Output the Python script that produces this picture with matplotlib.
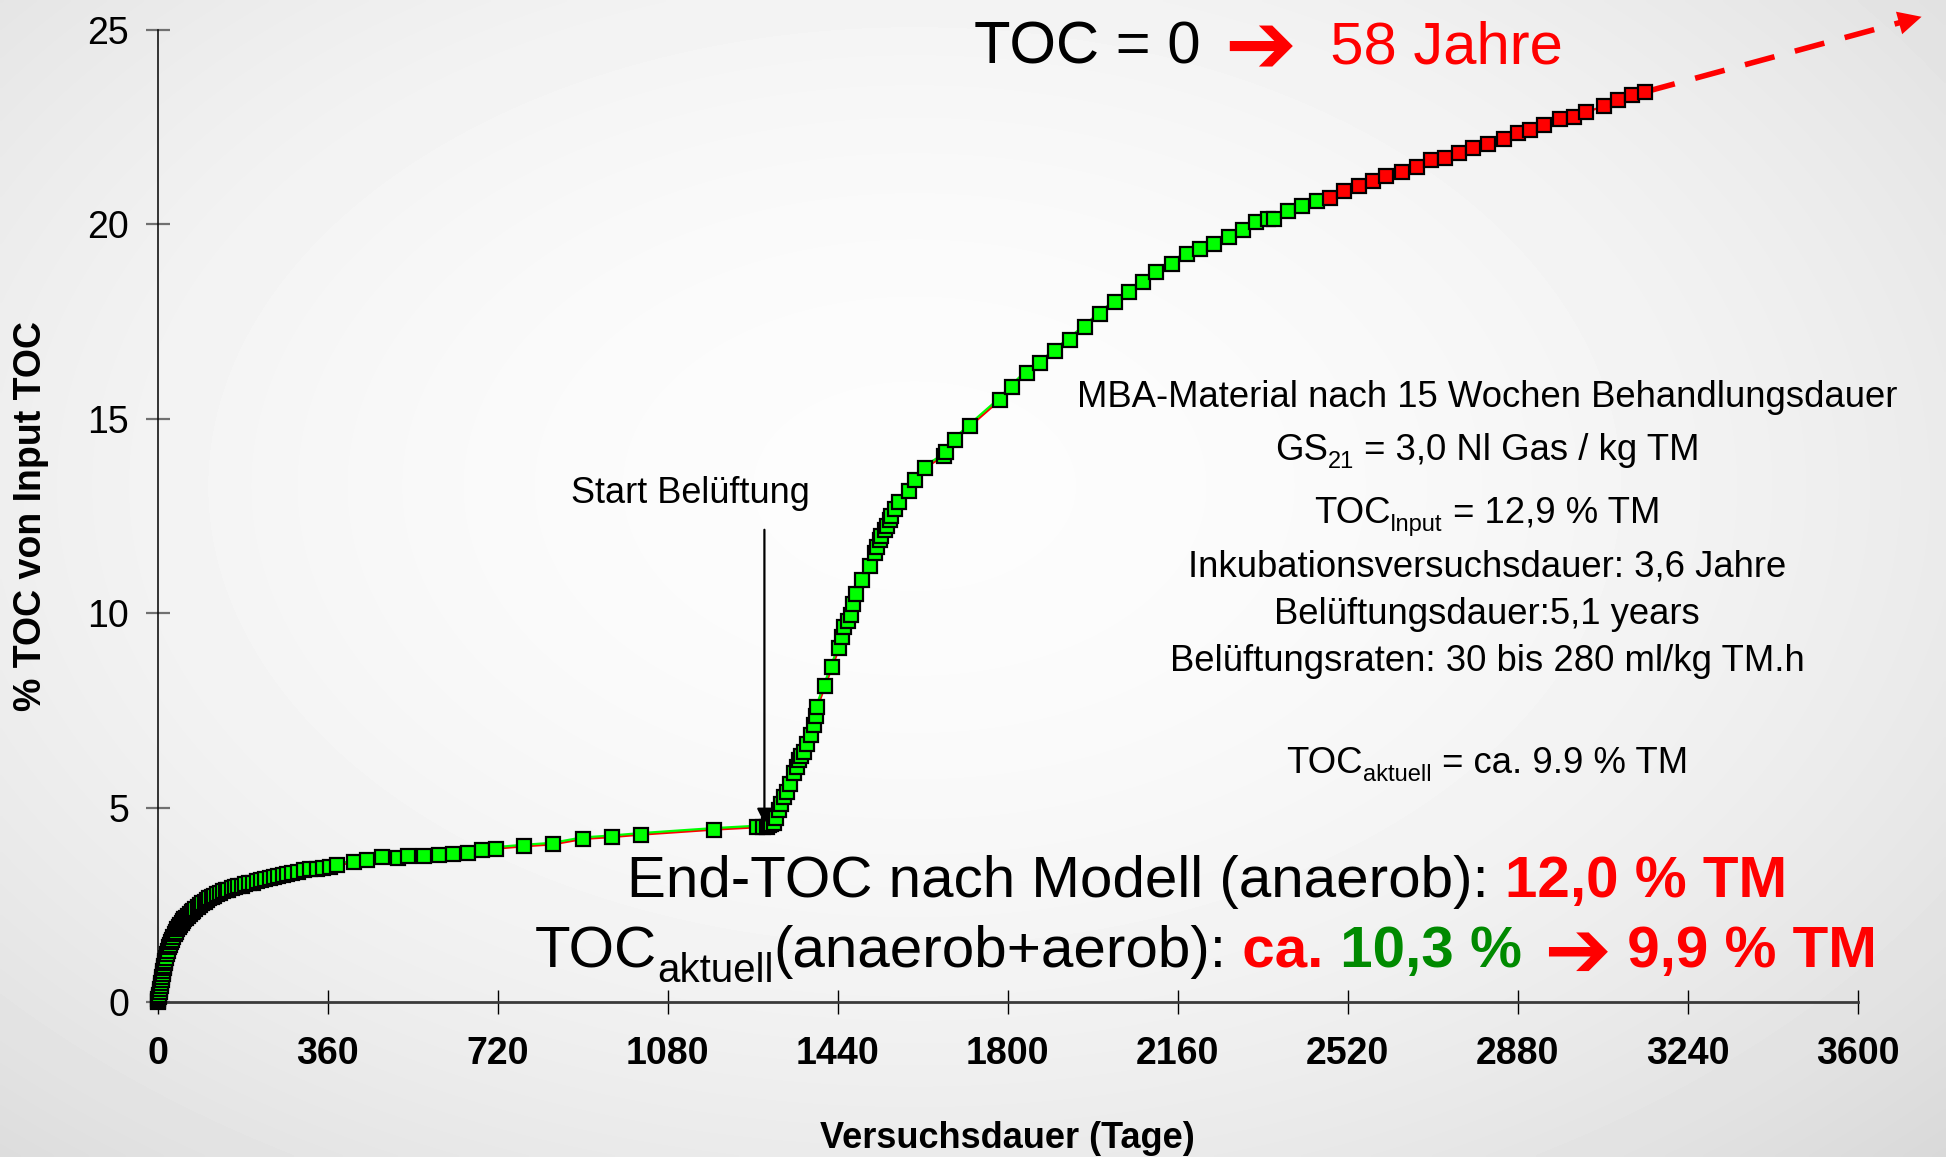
import numpy as np
import matplotlib
matplotlib.use('Agg')
import matplotlib.pyplot as plt
from matplotlib.transforms import IdentityTransform, offset_copy

# =========================
# Data
# =========================

# Anaerobic incubation phase (days, % TOC of input TOC)
days_anaerob = [0, 1, 2, 3, 4, 5, 6, 7, 8, 9, 10, 11, 12, 13, 14, 15, 16, 18, 20, 22,
                24, 26, 28, 30, 33, 36, 39, 42, 45, 48, 51, 54, 57, 60, 64, 68, 72, 76,
                80, 85, 90, 95, 100, 105, 110, 115, 120, 126, 132, 138, 144, 150, 157,
                164, 171, 178, 186, 194, 202, 210, 219, 228, 238, 247, 256, 266, 275,
                285, 298, 310, 323, 337, 351, 365, 379, 416, 444, 475, 509, 530, 565,
                596, 626, 657, 686, 716, 775, 837, 901, 963, 1023, 1179, 1270, 1283]
toc_anaerob = [0.0, 0.03, 0.08, 0.14, 0.20, 0.27, 0.34, 0.42, 0.50, 0.58, 0.66, 0.73,
               0.80, 0.87, 0.94, 1.00, 1.06, 1.15, 1.25, 1.33, 1.41, 1.48, 1.54, 1.60,
               1.68, 1.75, 1.82, 1.88, 1.94, 2.00, 2.05, 2.09, 2.13, 2.17, 2.22, 2.27,
               2.32, 2.36, 2.40, 2.45, 2.50, 2.55, 2.59, 2.63, 2.67, 2.71, 2.74, 2.78,
               2.82, 2.85, 2.88, 2.90, 2.93, 2.96, 2.98, 3.00, 3.03, 3.06, 3.08, 3.11,
               3.14, 3.16, 3.19, 3.22, 3.25, 3.27, 3.30, 3.32, 3.36, 3.39, 3.42, 3.44,
               3.46, 3.49, 3.52, 3.60, 3.67, 3.73, 3.71, 3.77, 3.77, 3.78, 3.82, 3.83,
               3.91, 3.95, 4.01, 4.06, 4.20, 4.25, 4.31, 4.44, 4.50, 4.52]

# Aerated phase, measured points (green)
days_aerob = [1290, 1295, 1300, 1305, 1310, 1316, 1321, 1326, 1333, 1340, 1348, 1353,
              1358, 1363, 1369, 1376, 1383, 1390, 1394, 1397, 1413, 1428, 1443, 1450,
              1454, 1461, 1468, 1473, 1479, 1492, 1508, 1520, 1524, 1530, 1532, 1540,
              1545, 1550, 1553, 1562, 1570, 1591, 1604, 1625, 1665, 1670, 1689, 1721,
              1784, 1810, 1840, 1869, 1901, 1931, 1964, 1996, 2027, 2057, 2087, 2114,
              2148, 2179, 2207, 2237, 2268, 2298, 2326, 2351, 2363, 2393, 2424, 2455]
toc_aerob = [4.52, 4.55, 4.58, 4.62, 4.75, 4.95, 5.10, 5.28, 5.41, 5.62, 5.90, 6.05,
             6.24, 6.33, 6.44, 6.65, 6.88, 7.14, 7.35, 7.58, 8.12, 8.61, 9.10, 9.40,
             9.64, 9.80, 9.97, 10.23, 10.49, 10.85, 11.21, 11.55, 11.70, 11.88, 11.98,
             12.15, 12.24, 12.40, 12.50, 12.68, 12.86, 13.14, 13.43, 13.74, 14.05,
             14.15, 14.46, 14.82, 15.49, 15.83, 16.19, 16.43, 16.74, 17.04, 17.36,
             17.70, 18.00, 18.26, 18.52, 18.78, 18.99, 19.25, 19.38, 19.51, 19.68,
             19.87, 20.06, 20.15, 20.15, 20.35, 20.47, 20.60]

# Aerated phase, later points (red)
days_late = [2483, 2513, 2544, 2574, 2601, 2635, 2666, 2696, 2726, 2756, 2785, 2816,
             2850, 2881, 2906, 2935, 2969, 3000, 3024, 3063, 3093, 3121, 3150]
toc_late = [20.69, 20.85, 20.98, 21.11, 21.24, 21.35, 21.48, 21.65, 21.72, 21.84,
            21.97, 22.08, 22.21, 22.34, 22.44, 22.55, 22.70, 22.76, 22.89, 23.04,
            23.21, 23.32, 23.41]

# Extrapolated trend
trend_days = [3150, 3735]
trend_toc = [23.41, 25.34]

# Start of aeration
start_aeration_day = 1285
start_aeration_toc = [12.15, 4.6]

x_ticks = list(range(0, 3601, 360))
y_ticks = [0, 5, 10, 15, 20, 25]

info_lines = [
    [('MBA-Material nach 15 Wochen Behandlungsdauer', 'n')],
    [('GS', 'n'), ('21', 's'), (' = 3,0 Nl Gas / kg TM', 'n')],
    [('TOC', 'n'), ('Input', 's'), (' = 12,9 % TM', 'n')],
    [('Inkubationsversuchsdauer: 3,6 Jahre', 'n')],
    [('Belüftungsdauer:5,1 years', 'n')],
    [('Belüftungsraten: 30 bis 280 ml/kg TM.h', 'n')],
    [('TOC', 'n'), ('aktuell', 's'), (' = ca. 9.9 % TM', 'n')],
]
info_baselines = [406.7, 460, 522.7, 576.7, 624, 670.7, 772.7]

RED = '#ff0000'
GREEN = '#00ff00'
DKGREEN = '#008a00'
FONTS = ['Liberation Sans', 'DejaVu Sans']

plt.rcParams['font.family'] = FONTS

W, H = 1946, 1157
fig = plt.figure(figsize=(W / 100, H / 100), dpi=100)

# =========================
# Background
# =========================
bg = fig.add_axes([0, 0, 1, 1], zorder=-10)
yy, xx = np.mgrid[0:1:300j, 0:1:500j]
r2 = ((xx - 0.47) / 0.53) ** 2 + ((yy - 0.42) / 0.58) ** 2
shade = 0.99 - 0.07 * r2
bg.imshow(shade, cmap='gray', vmin=0, vmax=1, extent=[0, 1, 0, 1],
          aspect='auto', origin='upper', interpolation='bilinear')
bg.axis('off')

# =========================
# Main axes
# =========================
ax = fig.add_axes([157.5 / W, 1 - 1002.3 / H, 1700.3 / W, 972.3 / H])
ax.set_facecolor('none')

# Lines: red underneath, green slightly offset on top
green_days = days_anaerob + days_aerob
green_toc = toc_anaerob + toc_aerob
all_days = green_days + days_late
all_toc = green_toc + toc_late
ax.plot(all_days, all_toc, color=RED, lw=1.6, zorder=2, clip_on=False)
shift = offset_copy(ax.transData, fig=fig, x=-1, y=1.5, units='dots')
ax.plot(green_days, green_toc, color=GREEN, lw=1.6, zorder=2.1, transform=shift)

ax.plot(green_days, green_toc, ls='none', marker='s', ms=9.5, mfc=GREEN,
        mec='black', mew=1.6, zorder=3, clip_on=False)
ax.plot(days_late, toc_late, ls='none', marker='s', ms=9.5, mfc=RED,
        mec='black', mew=1.6, zorder=3, clip_on=False)

# Extrapolation to TOC = 0
ax.plot(trend_days[0:1] + [trend_days[1] - 40], trend_toc[0:1] + [trend_toc[1] - 0.13],
        color=RED, lw=4, ls=(0, (5.5, 3.8)), zorder=2, clip_on=False)
ax.annotate('', xy=(trend_days[1], trend_toc[1]),
            xytext=(trend_days[1] - 60, trend_toc[1] - 0.2),
            arrowprops=dict(arrowstyle='-|>', color=RED, lw=0, mutation_scale=42,
                            shrinkA=0, shrinkB=0),
            annotation_clip=False)

# Start of aeration arrow
ax.annotate('', xy=(start_aeration_day, start_aeration_toc[1]),
            xytext=(start_aeration_day, start_aeration_toc[0]),
            arrowprops=dict(arrowstyle='-|>', color='black', lw=1.6,
                            mutation_scale=22, shrinkA=0, shrinkB=0))

ax.set_xlim(0, 3600)
ax.set_ylim(0, 25)
ax.set_xticks(x_ticks)
ax.set_xticklabels([str(t) for t in x_ticks], fontweight='bold')
ax.set_yticks(y_ticks)
ax.tick_params(axis='x', direction='inout', length=17, width=1.0, color='black',
               pad=16, labelsize=27)
ax.tick_params(axis='y', direction='inout', length=17, width=1.6, color='#707070',
               pad=12, labelsize=27)
for s in ['top', 'right']:
    ax.spines[s].set_visible(False)
ax.spines['left'].set_linewidth(1.1)
ax.spines['bottom'].set_linewidth(2.0)
ax.spines['bottom'].set_color('#3a3a3a')

ax.set_ylabel('% TOC von Input TOC', fontsize=27, fontweight='bold')
ax.yaxis.label.set_va('center')
ax.yaxis.set_label_coords(-0.0744, 0.5)
ax.set_xlabel('Versuchsdauer (Tage)', fontsize=26, fontweight='bold')
ax.xaxis.label.set_va('center')
ax.xaxis.set_label_coords(0.5, -0.14)

# =========================
# Text
# =========================
renderer = fig.canvas.get_renderer()


def rich_line(x, baseline, parts, ha='center'):
    # parts: (text, color, weight, size, drop in px), placed side by side in pixels
    arts = []
    for text, color, weight, size, drop in parts:
        t = fig.text(0, 0, text, color=color, fontweight=weight, fontsize=size,
                     va='baseline', ha='left', family=FONTS,
                     transform=IdentityTransform())
        arts.append((t, drop))
    widths = [t.get_window_extent(renderer).width for t, _ in arts]
    x0 = x - (sum(widths) / 2 if ha == 'center' else 0)
    y0 = H - baseline
    for (t, drop), w in zip(arts, widths):
        t.set_position((x0, y0 - drop))
        x0 += w


# Headline
rich_line(974, 63, [('TOC = 0', 'black', 'normal', 43, 0),
                    (' ➔', RED, 'bold', 62, 10),
                    ('  58 Jahre', RED, 'normal', 43, 0)], ha='left')

# Experiment info block
for line, base in zip(info_lines, info_baselines):
    parts = []
    for text, kind in line:
        if kind == 's':
            parts.append((text, 'black', 'normal', 17, 8))
        else:
            parts.append((text, 'black', 'normal', 26.3, 0))
    rich_line(1487, base, parts)

# Start of aeration label
fig.text(690 / W, 1 - 503.3 / H, 'Start Belüftung', fontsize=26, ha='center',
         va='baseline')

# Result lines
rich_line(1207, 897, [('End-TOC nach Modell (anaerob): ', 'black', 'normal', 42, 0),
                      ('12,0 % TM', RED, 'bold', 42, 0)])
rich_line(1206, 967, [('TOC', 'black', 'normal', 42, 0),
                      ('aktuell', 'black', 'normal', 29, 15),
                      ('(anaerob+aerob):', 'black', 'normal', 42, 0),
                      (' ca.', RED, 'bold', 42, 0),
                      (' 10,3 %', DKGREEN, 'bold', 42, 0),
                      (' ➔', RED, 'bold', 58, 10),
                      (' 9,9 % TM', RED, 'bold', 42, 0)])

fig.savefig('out.png', dpi=100)
